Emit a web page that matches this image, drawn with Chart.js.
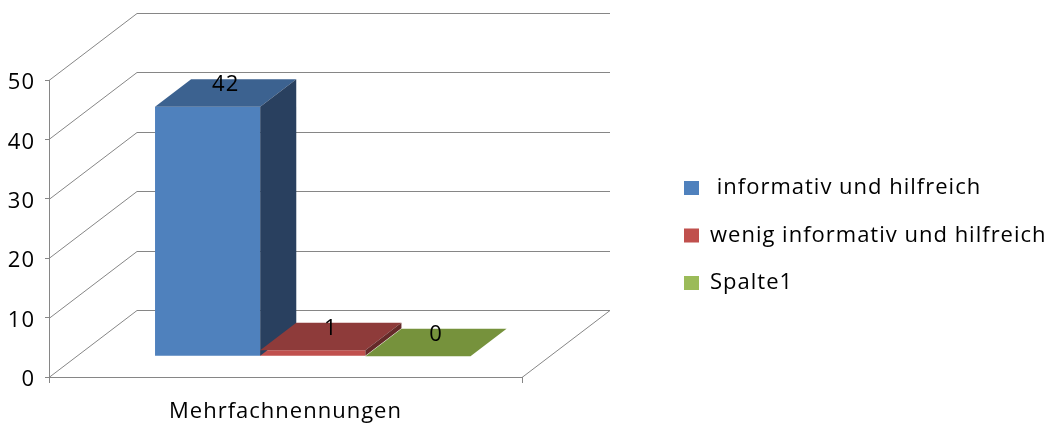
<!DOCTYPE html>
<html>
<head>
<meta charset="utf-8">
<script src="https://cdn.jsdelivr.net/npm/chart.js@4/dist/chart.umd.min.js"></script>
<style>
  body { margin: 0; background: #fff; }
  #wrap { width: 1051px; height: 423px; position: relative; }
</style>
</head>
<body>
<div id="wrap"><canvas id="myChart"></canvas></div>
<script>
// data
const categories = ['Mehrfachnennungen'];
const seriesNames = [' informativ und hilfreich', 'wenig informativ und hilfreich', 'Spalte1'];
const informativ = [42];
const wenigInformativ = [1];
const spalte1 = [0];
const yTicks = [0, 10, 20, 30, 40, 50];

// colours: front, top, side of each series
const frontColors = ['#4F81BD', '#C0504D', '#9BBB59'];
const topColors = ['#3C6290', '#8E3B3A', '#76923C'];
const sideColors = ['#29405F', '#652A29', '#55692B'];

// fake 3d: full floor depth, and where the bars sit inside it
const DEPTH_X = 88, DEPTH_Y = -67;
const BAR_FRONT = 0.31, BAR_DEPTH = 0.41;
const GRID = '#868686';
const FONT = { family: 'Open Sans', size: 22 };

const threeD = {
  id: 'threeD',
  beforeUpdate(chart) { chart.ctx.letterSpacing = '1px'; },
  afterLayout(chart) {
    // park the legend to the right of the back wall
    const lg = chart.legend;
    const pad = lg.options.labels.padding;
    lg.left = 684 - pad;
    lg.right = lg.left + lg.width;
    lg.top = 177 - pad;
    lg.bottom = lg.top + lg.height;
  },
  beforeDraw(chart) { chart.ctx.letterSpacing = '1px'; },
  beforeDatasetsDraw(chart) {
    const ctx = chart.ctx;
    const { left, right, bottom } = chart.chartArea;
    const ys = chart.scales.y;
    ctx.save();
    ctx.strokeStyle = GRID;
    ctx.lineWidth = 1;
    ctx.beginPath();
    yTicks.forEach(v => {
      const y = Math.round(ys.getPixelForValue(v)) + 0.5;
      ctx.moveTo(left, y);
      ctx.lineTo(left + DEPTH_X, y + DEPTH_Y);
      ctx.lineTo(right + DEPTH_X, y + DEPTH_Y);
    });
    ctx.moveTo(right, bottom + 0.5);
    ctx.lineTo(right + DEPTH_X, bottom + 0.5 + DEPTH_Y);
    ctx.stroke();
    ctx.restore();

    // bars stand back from the front edge of the floor
    ctx.save();
    ctx.translate(DEPTH_X * BAR_FRONT, DEPTH_Y * BAR_FRONT);
  },
  afterDatasetsDraw(chart) {
    const ctx = chart.ctx;
    const dx = DEPTH_X * BAR_DEPTH, dy = DEPTH_Y * BAR_DEPTH;
    const labels = [];
    chart.data.datasets.forEach((ds, i) => {
      chart.getDatasetMeta(i).data.forEach((bar, j) => {
        const x0 = bar.x - bar.width / 2, x1 = bar.x + bar.width / 2;
        const y = bar.y, base = bar.base;
        ctx.fillStyle = topColors[i];
        ctx.beginPath();
        ctx.moveTo(x0, y);
        ctx.lineTo(x1, y);
        ctx.lineTo(x1 + dx, y + dy);
        ctx.lineTo(x0 + dx, y + dy);
        ctx.closePath();
        ctx.fill();
        if (base - y > 0.5) {
          ctx.fillStyle = sideColors[i];
          ctx.beginPath();
          ctx.moveTo(x1, y);
          ctx.lineTo(x1 + dx, y + dy);
          ctx.lineTo(x1 + dx, base + dy);
          ctx.lineTo(x1, base);
          ctx.closePath();
          ctx.fill();
        }
        labels.push([String(ds.data[j]), bar.x + dx / 2, y + dy / 2 - 8]);
      });
    });
    ctx.fillStyle = '#000';
    ctx.font = FONT.size + 'px "' + FONT.family + '"';
    ctx.textAlign = 'center';
    ctx.textBaseline = 'middle';
    labels.forEach(l => ctx.fillText(l[0], l[1], l[2]));
    ctx.restore();
  }
};

const ctx = document.getElementById('myChart').getContext('2d');
const myChart = new Chart(ctx, {
  type: 'bar',
  data: {
    labels: categories,
    datasets: [
      { label: seriesNames[0], data: informativ, backgroundColor: frontColors[0] },
      { label: seriesNames[1], data: wenigInformativ, backgroundColor: frontColors[1] },
      { label: seriesNames[2], data: spalte1, backgroundColor: frontColors[2] }
    ].map(d => Object.assign(d, { borderWidth: 0, clip: false, categoryPercentage: 0.667, barPercentage: 1 }))
  },
  options: {
    responsive: true,
    maintainAspectRatio: false,
    animation: false,
    layout: { padding: { top: 80, right: 529, bottom: 0, left: 0 } },
    plugins: {
      tooltip: { enabled: false },
      legend: {
        position: 'chartArea',
        align: 'start',
        labels: {
          boxWidth: 15,
          boxHeight: 14,
          padding: 25.5,
          color: '#000',
          font: FONT
        }
      }
    },
    scales: {
      x: {
        grid: { drawOnChartArea: false, offset: true, tickLength: 6, color: GRID },
        border: { color: GRID },
        ticks: { color: '#000', font: FONT, padding: 16 },
        afterFit(s) { s.height = 46; }
      },
      y: {
        min: yTicks[0],
        max: yTicks[yTicks.length - 1],
        grid: { drawOnChartArea: false, tickLength: 4, color: GRID },
        border: { color: GRID },
        ticks: { stepSize: yTicks[1] - yTicks[0], color: '#000', font: FONT, padding: 10, labelOffset: 3 },
        afterFit(s) { s.width = 49; }
      }
    }
  },
  plugins: [threeD]
});
</script>
</body>
</html>
